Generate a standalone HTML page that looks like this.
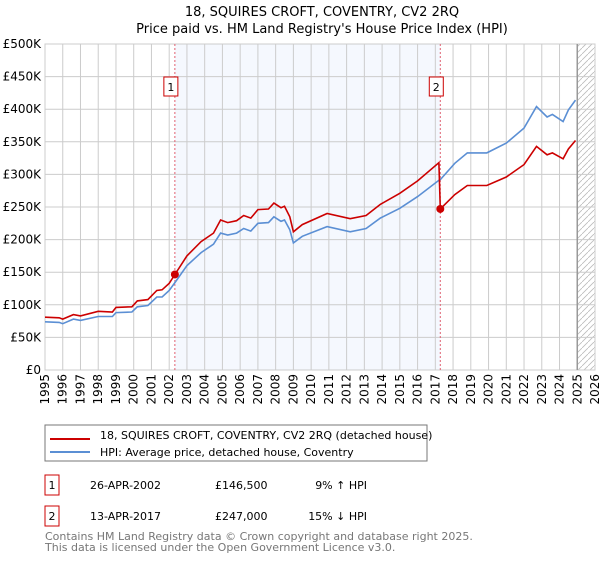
<!DOCTYPE html>
<html><head><meta charset="utf-8"><style>
body{margin:0;background:#fff;font-family:"DejaVu Sans","Liberation Sans",sans-serif;}
svg text{font-family:"DejaVu Sans","Liberation Sans",sans-serif;}
</style></head><body>
<svg id="c" width="600" height="560" xmlns="http://www.w3.org/2000/svg">
<text x="322" y="16" text-anchor="middle" font-size="13">18, SQUIRES CROFT, COVENTRY, CV2 2RQ</text>
<text x="322" y="33" text-anchor="middle" font-size="13">Price paid vs. HM Land Registry's House Price Index (HPI)</text>
<g id="plot"></g>
<rect x="45" y="425" width="382" height="36" fill="#fff" stroke="#777"/>
<line x1="50" y1="434" x2="90" y2="434" stroke="#cc0000" stroke-width="2" transform="translate(0,5)"/>
<text x="100" y="439" font-size="11">18, SQUIRES CROFT, COVENTRY, CV2 2RQ (detached house)</text>
<line x1="50" y1="451" x2="90" y2="451" stroke="#5b8fd4" stroke-width="2" transform="translate(0,1)"/>
<text x="100" y="456" font-size="11">HPI: Average price, detached house, Coventry</text>
<g font-size="11">
<rect x="45" y="475" width="14" height="20" fill="none" stroke="#cc0000"/>
<text x="52" y="489" text-anchor="middle">1</text>
<text x="90" y="489">26-APR-2002</text><text x="215" y="489">£146,500</text><text x="367" y="489" text-anchor="end">9% ↑ HPI</text>
<rect x="45" y="506" width="14" height="20" fill="none" stroke="#cc0000"/>
<text x="52" y="520" text-anchor="middle">2</text>
<text x="90" y="520">13-APR-2017</text><text x="215" y="520">£247,000</text><text x="367" y="520" text-anchor="end">15% ↓ HPI</text>
</g>
<text x="45" y="540" font-size="11" fill="#777">Contains HM Land Registry data © Crown copyright and database right 2025.</text>
<text x="45" y="551" font-size="11" fill="#777">This data is licensed under the Open Government Licence v3.0.</text>
</svg>
<script>
const hpiYears=[1995.0,1995.8,1996.0,1996.6,1997.0,1998.0,1998.8,1999.0,1999.9,2000.2,2000.8,2001.3,2001.6,2002.0,2002.32,2003.0,2003.8,2004.5,2004.9,2005.3,2005.8,2006.2,2006.6,2007.0,2007.6,2007.9,2008.3,2008.5,2008.8,2009.0,2009.5,2010.9,2012.2,2013.1,2013.9,2015.0,2016.0,2017.2,2017.28,2018.1,2018.8,2019.9,2021.0,2022.0,2022.7,2023.3,2023.6,2024.2,2024.5,2024.9];
const hpiValues=[74,73,71,78,76,82,82,88,89,97,99,112,112,122,134,160,180,193,210,207,210,217,213,225,226,235,228,230,215,195,205,220,212,217,233,248,266,291,292,317,333,333,348,371,404,388,392,381,399,414];
const priceYears=[1995.0,1995.8,1996.0,1996.6,1997.0,1998.0,1998.8,1999.0,1999.9,2000.2,2000.8,2001.3,2001.6,2002.0,2002.32,2003.0,2003.8,2004.5,2004.9,2005.3,2005.8,2006.2,2006.6,2007.0,2007.6,2007.9,2008.3,2008.5,2008.8,2009.0,2009.5,2010.9,2012.2,2013.1,2013.9,2015.0,2016.0,2017.2,2017.28,2018.1,2018.8,2019.9,2021.0,2022.0,2022.7,2023.3,2023.6,2024.2,2024.5,2024.9];
const priceValues=[81,80,78,85,83,90,89,96,97,106,108,122,123,133,146.5,175,197,210,230,226,229,237,233,246,247,256,249,251,235,212,223,240,232,237,254,271,290,318,247,269,283,283,296,315,343,330,333,324,339,352];
const sales=[[2002.32,146.5,"1"],[2017.28,247,"2"]];
const yTicks=[0,50,100,150,200,250,300,350,400,450,500];
const xTicks=[1995,1996,1997,1998,1999,2000,2001,2002,2003,2004,2005,2006,2007,2008,2009,2010,2011,2012,2013,2014,2015,2016,2017,2018,2019,2020,2021,2022,2023,2024,2025,2026];
const X0=45,X1=595,Y0=370,Y1=44;
const sx=y=>X0+(y-1995)/31*(X1-X0);
const sy=v=>Y0-v/500*(Y0-Y1);
const NS="http://www.w3.org/2000/svg";
const g=document.getElementById('plot');
function mk(t,a,p){const e=document.createElementNS(NS,t);for(const k in a)e.setAttribute(k,a[k]);(p||g).appendChild(e);return e;}
let sh=mk('rect',{x:sx(sales[0][0]),y:Y1,width:sx(sales[1][0])-sx(sales[0][0]),height:Y0-Y1,fill:'#f5f8fe'});


const defs=mk('defs',{});
const pat=mk('pattern',{id:'h',width:6,height:6,patternUnits:'userSpaceOnUse'},defs);
mk('path',{d:'M0,6 L6,0',stroke:'#bbb','stroke-width':0.8},pat);
let hz=mk('rect',{x:sx(2025),y:Y1,width:X1-sx(2025),height:Y0-Y1,fill:'url(#h)'});


yTicks.forEach(v=>{
 let l=mk('line',{x1:X0,x2:X1,y1:sy(v),y2:sy(v),stroke:'#ccc'});
 
 
 let t=mk('text',{x:X0-4,y:sy(v)+4,'text-anchor':'end','font-size':12});
 
 
 t.textContent=v===0?'£0':'£'+v+'K';
});
xTicks.forEach(y=>{
 let l=mk('line',{x1:sx(y),x2:sx(y),y1:Y1,y2:Y0,stroke:'#ccc'});
 
 
 let t=mk('text',{transform:`translate(${sx(y)+4},${Y0+4}) rotate(-90)`,'text-anchor':'end','font-size':12});
 
 
 t.textContent=y;
});
let b=mk('rect',{x:X0,y:Y1,width:X1-X0,height:Y0-Y1,fill:'none',stroke:'#ccc'});


let nl=mk('line',{x1:sx(2025),x2:sx(2025),y1:Y1,y2:Y0,stroke:'#999','stroke-width':1.5});


sales.forEach(s=>{
 let l=mk('line',{x1:sx(s[0]),x2:sx(s[0]),y1:Y1,y2:Y0,stroke:'#e06070','stroke-dasharray':'2,2'});
 
 
});
function path(xs,vs,col,name){
 let d=xs.map((x,i)=>(i?'L':'M')+sx(x).toFixed(1)+','+sy(vs[i]).toFixed(1)).join(' ');
 let p=mk('path',{d:d,fill:'none',stroke:col,'stroke-width':1.6});
 
 
}
path(hpiYears,hpiValues,'#5b8fd4','hpi-line');
path(priceYears,priceValues,'#cc0000','price-paid-line');
sales.forEach(s=>{
 let c=mk('circle',{cx:sx(s[0]),cy:sy(s[1]),r:4,fill:'#cc0000'});
 
 
 let r=mk('rect',{x:sx(s[0])-11,y:77,width:14,height:19,fill:'#fff',stroke:'#cc0000'});
 
 
 let t=mk('text',{x:sx(s[0])-4,y:91,'text-anchor':'middle','font-size':11});
 
 
 t.textContent=s[2];
});
</script>
</body></html>
